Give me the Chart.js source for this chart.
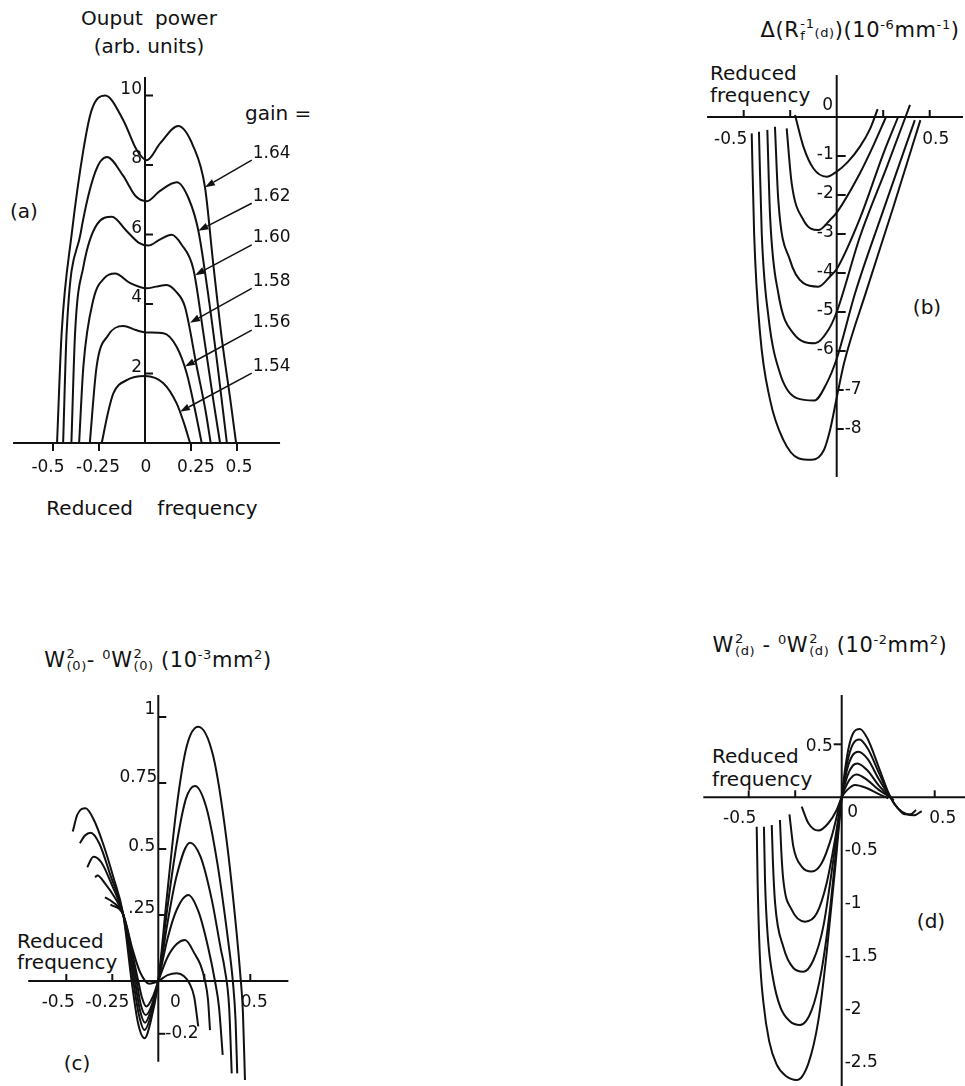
<!DOCTYPE html>
<html>
<head>
<meta charset="utf-8">
<script src="https://cdn.jsdelivr.net/npm/chart.js@4.4.1/dist/chart.umd.min.js"></script>
<style>
  html, body { margin: 0; padding: 0; background: #fff; }
  body { width: 965px; height: 1086px; position: relative; overflow: hidden;
         font-family: "DejaVu Sans", sans-serif; color: #111; }
  canvas { position: absolute; display: block; }
  .t { position: absolute; white-space: nowrap; font-size: 20px; line-height: 1; }
  .c { transform: translate(-50%, -50%); }
  .l { transform: translate(0, -50%); }
  .ttl { font-size: 21px; letter-spacing: 0.6px; }
  .stk { display: inline-flex; flex-direction: column; align-items: flex-start;
         font-size: 0.62em; line-height: 0.95; vertical-align: 0.72em; margin-left: 1px; }
  .sm { font-size: 0.62em; }
  sup { font-size: 0.62em; vertical-align: 0.65em; line-height: 0; }
</style>
</head>
<body>

<!-- panel (a) -->
<div class="t c" style="left:149px;top:18px;word-spacing:6px">Ouput power</div>
<div class="t c" style="left:149px;top:46px">(arb. units)</div>
<div class="t c" style="left:24px;top:211px">(a)</div>
<div class="t l" style="left:245px;top:113px">gain =</div>
<div class="t c" style="left:152px;top:508px;word-spacing:18px">Reduced frequency</div>
<canvas id="chartA" width="330" height="430" style="left:0px;top:60px"></canvas>

<!-- panel (b) -->
<div class="t c ttl" style="left:860px;top:30px">&Delta;(R<span class="stk"><span>-1</span><span>f</span></span><span class="sm">(d)</span>)(10<sup>-6</sup>mm<sup>-1</sup>)</div>
<div class="t l" style="left:710px;top:73px">Reduced</div>
<div class="t l" style="left:710px;top:95px">frequency</div>
<div class="t c" style="left:927px;top:307px">(b)</div>
<canvas id="chartB" width="275" height="450" style="left:690px;top:55px"></canvas>

<!-- panel (c) -->
<div class="t c ttl" style="left:158px;top:660px">W<span class="stk"><span>2</span><span>(0)</span></span>- <sup>0</sup>W<span class="stk"><span>2</span><span>(0)</span></span> (10<sup>-3</sup>mm<sup>2</sup>)</div>
<div class="t l" style="left:17px;top:941px">Reduced</div>
<div class="t l" style="left:17px;top:962px">frequency</div>
<div class="t c" style="left:77px;top:1063px">(c)</div>
<canvas id="chartC" width="310" height="406" style="left:0px;top:680px"></canvas>

<!-- panel (d) -->
<div class="t c ttl" style="left:830px;top:645px">W<span class="stk"><span>2</span><span>(d)</span></span> - <sup>0</sup>W<span class="stk"><span>2</span><span>(d)</span></span> (10<sup>-2</sup>mm<sup>2</sup>)</div>
<div class="t l" style="left:712px;top:756px">Reduced</div>
<div class="t l" style="left:712px;top:779px">frequency</div>
<div class="t c" style="left:931px;top:921px">(d)</div>
<canvas id="chartD" width="275" height="406" style="left:690px;top:680px"></canvas>

<script>
// ---------------- panel (a): output power vs reduced frequency ----------------
const GAIN_LABELS = ['1.64', '1.62', '1.60', '1.58', '1.56', '1.54'];
const POWER_164 = [[-0.478,0],[-0.453,3.17],[-0.398,6.03],[-0.335,8.43],[-0.29,9.58],[-0.217,10.0],[-0.118,9.29],[-0.045,8.43],[0.01,8.14],[0.082,8.62],[0.18,9.12],[0.263,8.53],[0.326,7.36],[0.37,5.2],[0.42,2.9],[0.465,1.2],[0.495,0]];
const POWER_162 = [[-0.445,0],[-0.426,3.17],[-0.35,6.03],[-0.27,7.8],[-0.207,8.23],[-0.12,7.7],[-0.05,7.1],[0.01,6.96],[0.08,7.25],[0.173,7.5],[0.24,7.0],[0.29,6.11],[0.34,4.4],[0.395,2.2],[0.445,0]];
const POWER_160 = [[-0.40,0],[-0.38,3.17],[-0.335,5.07],[-0.26,6.3],[-0.18,6.51],[-0.1,6.1],[-0.03,5.75],[0.018,5.68],[0.08,5.85],[0.145,5.99],[0.2,5.7],[0.263,5.0],[0.317,3.17],[0.371,1.24],[0.408,0]];
const POWER_158 = [[-0.358,0],[-0.335,2.2],[-0.281,4.12],[-0.22,4.75],[-0.163,4.88],[-0.08,4.6],[0.009,4.45],[0.06,4.5],[0.118,4.55],[0.17,4.35],[0.217,3.92],[0.281,2.2],[0.33,0.9],[0.357,0]];
const POWER_156 = [[-0.30,0],[-0.263,2.2],[-0.2,3.1],[-0.118,3.37],[-0.05,3.25],[0.01,3.18],[0.1,3.16],[0.172,2.77],[0.227,2.0],[0.27,1.0],[0.308,0]];
const POWER_154 = [[-0.235,0],[-0.2,0.9],[-0.172,1.43],[-0.1,1.81],[0,1.93],[0.1,1.72],[0.172,1.14],[0.21,0.6],[0.245,0]];
const GAIN_ARROW_TAILS = [[0.58,8.14],[0.58,6.90],[0.58,5.70],[0.58,4.45],[0.58,3.25],[0.58,2.01]];
const GAIN_ARROW_TIPS  = [[0.326,7.36],[0.29,6.11],[0.272,4.83],[0.245,3.46],[0.217,2.20],[0.19,0.90]];
const A_X_TICKS  = [-0.5, -0.25, 0, 0.25, 0.5];
const A_X_LABELS = ['-0.5', '-0.25', '0', '0.25', '0.5'];
const A_Y_TICKS  = [2, 4, 6, 8, 10];
const A_Y_LABELS = ['2', '4', '6', '8', '10'];

// ---------------- panel (b): change of inverse wavefront radius ----------------
const DRINV_1 = [[-0.224,0.05],[-0.179,-0.76],[-0.125,-1.32],[-0.054,-1.53],[0,-1.40],[0.06,-1.15],[0.125,-0.76],[0.18,-0.3],[0.22,0.2]];
const DRINV_2 = [[-0.269,-0.29],[-0.242,-1.70],[-0.179,-2.64],[-0.099,-2.90],[-0.036,-2.64],[0,-2.45],[0.125,-1.44],[0.2,-0.7],[0.265,0]];
const DRINV_3 = [[-0.332,-0.25],[-0.314,-2.13],[-0.251,-3.67],[-0.179,-4.26],[-0.099,-4.35],[-0.036,-4.09],[0,-3.9],[0.125,-2.6],[0.25,-0.95],[0.33,0]];
const DRINV_4 = [[-0.373,-0.33],[-0.358,-2.56],[-0.314,-4.52],[-0.233,-5.55],[-0.116,-5.80],[-0.045,-5.46],[0,-5.0],[0.125,-3.07],[0.27,-1.27],[0.394,0.31]];
const DRINV_5 = [[-0.418,-0.38],[-0.403,-2.98],[-0.367,-5.12],[-0.305,-6.57],[-0.215,-7.21],[-0.12,-7.27],[-0.054,-6.83],[0,-6.2],[0.1,-4.5],[0.25,-2.4],[0.42,-0.08]];
const DRINV_6 = [[-0.457,-0.42],[-0.444,-2.98],[-0.412,-5.55],[-0.358,-7.26],[-0.287,-8.28],[-0.206,-8.75],[-0.134,-8.79],[-0.07,-8.55],[-0.036,-8.03],[0,-7.2],[0.04,-6.3],[0.161,-4.44],[0.305,-2.3],[0.45,-0.08]];
const B_X_TICKS  = [-0.5, -0.25, 0, 0.25, 0.5];
const B_X_LABELS = ['-0.5', '', '0', '', '0.5'];
const B_Y_TICKS  = [-1, -2, -3, -4, -5, -6, -7, -8];
const B_Y_LABELS = ['-1', '-2', '-3', '-4', '-5', '-6', '-7', '-8'];

// ---------------- panel (c): waist change at z = 0 ----------------
const W0_1 = [[-0.26,0.29],[-0.19,0.25],[-0.14,0.12],[-0.1,0.035],[-0.05,-0.01],[0,0],[0.05,0.022],[0.1,0.029],[0.14,0.018],[0.17,-0.01],[0.195,-0.06],[0.217,-0.172]];
const W0_2 = [[-0.29,0.317],[-0.25,0.30],[-0.19,0.25],[-0.109,0],[-0.09,-0.06],[-0.065,-0.097],[-0.03,-0.06],[0,0],[0.05,0.09],[0.1,0.14],[0.145,0.155],[0.2,0.1],[0.23,0.06],[0.254,0],[0.27,-0.07],[0.281,-0.186]];
const W0_3 = [[-0.344,0.393],[-0.33,0.40],[-0.29,0.37],[-0.24,0.32],[-0.19,0.25],[-0.118,0],[-0.095,-0.09],[-0.068,-0.129],[-0.035,-0.09],[0,0],[0.05,0.16],[0.1,0.27],[0.163,0.326],[0.22,0.26],[0.27,0.13],[0.308,0],[0.33,-0.1],[0.35,-0.28]];
const W0_4 = [[-0.386,0.431],[-0.353,0.471],[-0.31,0.45],[-0.25,0.36],[-0.19,0.25],[-0.127,0],[-0.1,-0.11],[-0.072,-0.158],[-0.04,-0.11],[0,0],[0.05,0.22],[0.1,0.40],[0.172,0.524],[0.23,0.47],[0.29,0.31],[0.34,0.12],[0.36,0.05],[0.385,-0.1],[0.399,-0.35]];
const W0_5 = [[-0.426,0.522],[-0.40,0.55],[-0.367,0.562],[-0.32,0.52],[-0.26,0.40],[-0.19,0.25],[-0.136,0],[-0.105,-0.13],[-0.075,-0.186],[-0.04,-0.13],[0,0],[0.05,0.28],[0.1,0.52],[0.15,0.69],[0.199,0.739],[0.26,0.66],[0.32,0.45],[0.38,0.15],[0.405,0],[0.42,-0.15],[0.429,-0.35]];
const W0_6 = [[-0.465,0.566],[-0.44,0.63],[-0.395,0.654],[-0.35,0.61],[-0.30,0.52],[-0.245,0.395],[-0.19,0.25],[-0.145,0],[-0.11,-0.16],[-0.075,-0.217],[-0.04,-0.15],[0,0],[0.045,0.307],[0.1,0.66],[0.154,0.888],[0.217,0.963],[0.299,0.85],[0.371,0.534],[0.426,0.18],[0.445,0.03],[0.46,-0.12],[0.471,-0.375]];
const C_X_TICKS  = [-0.5, -0.25, 0, 0.25, 0.5];
const C_X_LABELS = ['-0.5', '-0.25', '0', '', '0.5'];
const C_Y_TICKS  = [1, 0.75, 0.5, 0.25, -0.2];
const C_Y_LABELS = ['1', '0.75', '0.5', '.25', '-0.2'];

// ---------------- panel (d): waist change at z = d ----------------
const WD_1 = [[-0.215,-0.088],[-0.179,-0.245],[-0.125,-0.314],[-0.072,-0.245],[-0.027,-0.12],[0,0],[0.03,0.07],[0.072,0.116],[0.13,0.09],[0.2,0.03],[0.25,-0.01]];
const WD_2 = [[-0.281,-0.16],[-0.26,-0.465],[-0.215,-0.654],[-0.161,-0.701],[-0.108,-0.623],[-0.054,-0.371],[0,0],[0.03,0.13],[0.06,0.2],[0.08,0.215],[0.14,0.16],[0.2,0.07],[0.262,0],[0.27,-0.01]];
const WD_3 = [[-0.332,-0.214],[-0.325,-0.5],[-0.314,-0.78],[-0.269,-1.06],[-0.197,-1.173],[-0.134,-1.094],[-0.081,-0.81],[-0.036,-0.40],[0,0],[0.03,0.2],[0.06,0.3],[0.085,0.32],[0.14,0.25],[0.2,0.11],[0.262,0],[0.275,-0.02]];
const WD_4 = [[-0.376,-0.261],[-0.37,-0.6],[-0.358,-1.0],[-0.314,-1.41],[-0.26,-1.61],[-0.206,-1.645],[-0.152,-1.535],[-0.099,-1.22],[-0.045,-0.59],[0,0],[0.03,0.27],[0.06,0.4],[0.09,0.43],[0.14,0.36],[0.2,0.17],[0.262,0],[0.28,-0.03]];
const WD_5 = [[-0.418,-0.277],[-0.412,-0.8],[-0.398,-1.3],[-0.37,-1.7],[-0.33,-1.98],[-0.28,-2.11],[-0.224,-2.148],[-0.161,-2.006],[-0.108,-1.63],[-0.063,-1.06],[-0.03,-0.5],[0,0],[0.03,0.33],[0.06,0.5],[0.095,0.545],[0.14,0.46],[0.2,0.23],[0.262,0],[0.3,-0.1],[0.34,-0.16],[0.37,-0.16],[0.4,-0.12]];
const WD_6 = [[-0.457,-0.277],[-0.452,-0.8],[-0.44,-1.5],[-0.42,-1.95],[-0.39,-2.3],[-0.35,-2.52],[-0.3,-2.63],[-0.242,-2.667],[-0.179,-2.51],[-0.125,-2.1],[-0.081,-1.47],[-0.036,-0.686],[0,0],[0.03,0.4],[0.06,0.6],[0.098,0.645],[0.14,0.55],[0.2,0.28],[0.262,0],[0.3,-0.1],[0.35,-0.16],[0.39,-0.17],[0.43,-0.13]];
const D_X_TICKS  = [-0.5, -0.25, 0, 0.5];
const D_X_LABELS = ['-0.5', '', '0', '0.5'];
const D_Y_TICKS  = [0.5, -0.5, -1, -1.5, -2, -2.5];
const D_Y_LABELS = ['0.5', '-0.5', '-1', '-1.5', '-2', '-2.5'];

// ---------------- drawing ----------------
const INK = '#111';
const NUM_FONT = '17px "DejaVu Sans", sans-serif';

// Axes crossing at the origin, with tick marks and hand-placed tick labels.
function crossAxes(cfg) {
  return {
    id: 'crossAxes',
    afterDatasetsDraw(chart) {
      const { ctx, scales: { x, y } } = chart;
      const X0 = x.getPixelForValue(0), Y0 = y.getPixelForValue(0);
      ctx.save();
      ctx.strokeStyle = INK; ctx.fillStyle = INK; ctx.lineWidth = 2;
      ctx.beginPath();
      ctx.moveTo(x.getPixelForValue(cfg.xSpan[0]), Y0);
      ctx.lineTo(x.getPixelForValue(cfg.xSpan[1]), Y0);
      ctx.moveTo(X0, y.getPixelForValue(cfg.ySpan[0]));
      ctx.lineTo(X0, y.getPixelForValue(cfg.ySpan[1]));
      ctx.stroke();
      ctx.font = NUM_FONT;
      ctx.textBaseline = 'middle';
      cfg.xTicks.forEach((v, i) => {
        const px = x.getPixelForValue(v);
        if (v !== 0) {
          ctx.beginPath(); ctx.moveTo(px, Y0); ctx.lineTo(px, Y0 + cfg.xTickLen); ctx.stroke();
        }
        const lbl = cfg.xLabels[i];
        if (lbl) {
          const p = cfg.xLabelPos[i];
          ctx.textAlign = p.align || 'center';
          ctx.fillText(lbl, px + p.dx, Y0 + p.dy);
        }
      });
      cfg.yTicks.forEach((v, i) => {
        const py = y.getPixelForValue(v);
        const tl = cfg.yTickLen[i];
        if (tl) {
          ctx.beginPath(); ctx.moveTo(X0, py); ctx.lineTo(X0 + tl, py); ctx.stroke();
        }
        const p = cfg.yLabelPos[i];
        ctx.textAlign = p.align;
        ctx.fillText(cfg.yLabels[i], X0 + p.dx, py + p.dy);
      });
      ctx.restore();
    }
  };
}

// Arrows pointing from each gain label to its curve.
function gainArrows(tails, tips, labels) {
  return {
    id: 'gainArrows',
    afterDatasetsDraw(chart) {
      const { ctx, scales: { x, y } } = chart;
      ctx.save();
      ctx.strokeStyle = INK; ctx.fillStyle = INK; ctx.lineWidth = 1.5;
      ctx.font = NUM_FONT; ctx.textAlign = 'left'; ctx.textBaseline = 'middle';
      labels.forEach((lbl, i) => {
        const tx = x.getPixelForValue(tails[i][0]), ty = y.getPixelForValue(tails[i][1]);
        const hx = x.getPixelForValue(tips[i][0]),  hy = y.getPixelForValue(tips[i][1]);
        const a = Math.atan2(hy - ty, hx - tx), L = 10, W = 3.5;
        const bx = hx - L * Math.cos(a), by = hy - L * Math.sin(a);
        ctx.beginPath(); ctx.moveTo(tx, ty); ctx.lineTo(bx, by); ctx.stroke();
        ctx.beginPath();
        ctx.moveTo(hx, hy);
        ctx.lineTo(bx - W * Math.sin(a), by + W * Math.cos(a));
        ctx.lineTo(bx + W * Math.sin(a), by - W * Math.cos(a));
        ctx.closePath(); ctx.fill();
        ctx.fillText(lbl, tx + 1, ty - 7);
      });
      ctx.restore();
    }
  };
}

function makeChart(id, frame, series, plugins) {
  const xmin = -frame.ox / frame.sx, xmax = (frame.w - frame.ox) / frame.sx;
  const ymax = frame.oy / frame.sy, ymin = (frame.oy - frame.h) / frame.sy;
  return new Chart(document.getElementById(id), {
    type: 'scatter',
    data: {
      datasets: series.map(s => ({
        data: s.map(([x, y]) => ({ x, y })),
        showLine: true, borderColor: INK, borderWidth: 2,
        pointRadius: 0, pointHoverRadius: 0, fill: false,
        cubicInterpolationMode: 'monotone'
      }))
    },
    options: {
      responsive: false, animation: false, devicePixelRatio: 1, events: [],
      layout: { padding: 0 },
      plugins: { legend: { display: false }, tooltip: { enabled: false } },
      scales: {
        x: { type: 'linear', display: false, min: xmin, max: xmax },
        y: { type: 'linear', display: false, min: ymin, max: ymax }
      }
    },
    plugins
  });
}

// (a)
makeChart('chartA', { w: 330, h: 430, ox: 145, oy: 383, sx: 184, sy: 34.75 },
  [POWER_164, POWER_162, POWER_160, POWER_158, POWER_156, POWER_154],
  [crossAxes({
    xSpan: [-0.717, 0.734], ySpan: [0, 10.53],
    xTicks: A_X_TICKS, xLabels: A_X_LABELS, xTickLen: 8,
    xLabelPos: [{ dx: -5, dy: 25 }, { dx: -1, dy: 25 }, { dx: 1, dy: 25 }, { dx: 5, dy: 25 }, { dx: 2, dy: 25 }],
    yTicks: A_Y_TICKS, yLabels: A_Y_LABELS, yTickLen: [8, 8, 8, 8, 8],
    yLabelPos: A_Y_TICKS.map(() => ({ align: 'right', dx: -3, dy: -6 }))
  }), gainArrows(GAIN_ARROW_TAILS, GAIN_ARROW_TIPS, GAIN_LABELS)]);

// (b)
makeChart('chartB', { w: 275, h: 450, ox: 146.7, oy: 62, sx: 186, sy: 39 },
  [DRINV_1, DRINV_2, DRINV_3, DRINV_4, DRINV_5, DRINV_6],
  [crossAxes({
    xSpan: [-0.697, 0.679], ySpan: [-9.23, 1.08],
    xTicks: B_X_TICKS, xLabels: B_X_LABELS, xTickLen: -7,
    xLabelPos: [{ dx: -13, dy: 23 }, null, { dx: -9, dy: -11 }, null, { dx: 6, dy: 23 }],
    yTicks: B_Y_TICKS, yLabels: B_Y_LABELS, yTickLen: [9, 9, 9, 9, 9, 9, 7, 7],
    yLabelPos: B_Y_TICKS.map(v => v > -7 ? { align: 'right', dx: -3, dy: -1 } : { align: 'left', dx: 8, dy: 0 })
  })]);

// (c)
makeChart('chartC', { w: 310, h: 406, ox: 158.3, oy: 301, sx: 184, sy: 264 },
  [W0_1, W0_2, W0_3, W0_4, W0_5, W0_6],
  [crossAxes({
    xSpan: [-0.707, 0.707], ySpan: [-0.306, 1.083],
    xTicks: C_X_TICKS, xLabels: C_X_LABELS, xTickLen: -7,
    xLabelPos: [{ dx: -8, dy: 22 }, { dx: -5, dy: 22 }, { dx: 17, dy: 22 }, null, { dx: 4, dy: 22 }],
    yTicks: C_Y_TICKS, yLabels: C_Y_LABELS, yTickLen: [8, 8, 8, 8, 7],
    yLabelPos: [{ align: 'right', dx: -3, dy: -7 }, { align: 'right', dx: -1, dy: -5 }, { align: 'right', dx: -3, dy: -2 }, { align: 'right', dx: -3, dy: -6 }, { align: 'left', dx: 7, dy: 0 }]
  })]);

// (d)
makeChart('chartD', { w: 275, h: 406, ox: 151.7, oy: 117.3, sx: 186, sy: 106 },
  [WD_1, WD_2, WD_3, WD_4, WD_5, WD_6],
  [crossAxes({
    xSpan: [-0.744, 0.663], ySpan: [-2.75, 0.965],
    xTicks: D_X_TICKS, xLabels: D_X_LABELS, xTickLen: -7,
    xLabelPos: [{ dx: -9, dy: 21 }, null, { dx: 11, dy: 15 }, { dx: 8, dy: 21 }],
    yTicks: D_Y_TICKS, yLabels: D_Y_LABELS, yTickLen: [-8, 0, 0, 0, 0, 0],
    yLabelPos: D_Y_TICKS.map(v => v > 0 ? { align: 'right', dx: -9, dy: 2 } : { align: 'left', dx: 3, dy: 0 })
  })]);
</script>
</body>
</html>
